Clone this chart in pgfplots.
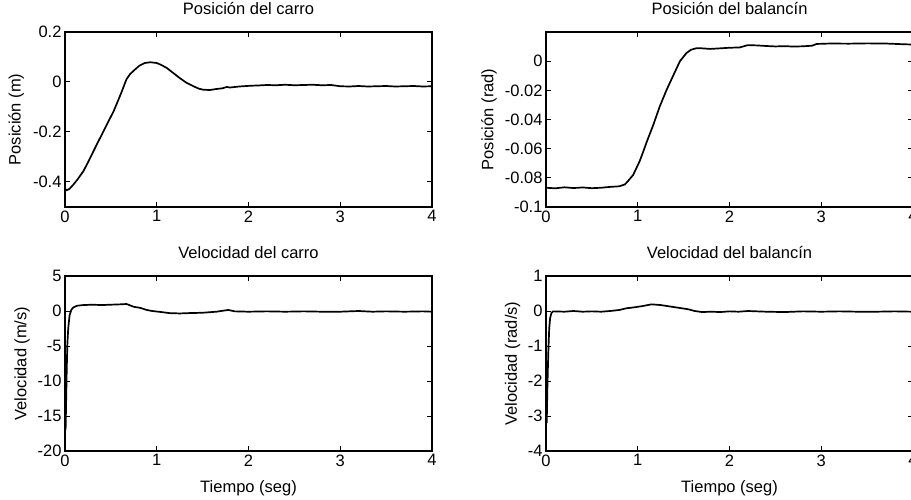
\documentclass[border=0pt]{standalone}
\usepackage{fontspec}
\setmainfont{Liberation Sans}
\usepackage{pgfplots}
\pgfplotsset{compat=1.18}
\newcommand\fs{\fontsize{16.5}{19}\selectfont}
\pgfplotsset{
  mat/.style={
    scale only axis, width=367pt, height=175pt,
    xmin=0, xmax=4, xtick={0,1,2,3,4}, xticklabels={0,1,2,3,4},
    tick align=inside, major tick length=5pt,
    axis line style={line width=1.1pt},
    every tick/.style={black, line width=1pt},
    tick label style={font=\fs},
    label style={font=\fs},
    scaled y ticks=false,
    title style={font=\fs, at={(axis description cs:0.5,1)}, anchor=base, yshift=11.5pt},
    xlabel style={at={(axis description cs:0.5,0)}, anchor=base, yshift=-41pt},
  },
  sig/.style={black, line width=1.7pt, mark=none},
}
\begin{document}
\begin{tikzpicture}
\useasboundingbox (0,0) rectangle (911pt,499pt);
% Top-left
\begin{axis}[mat, at={(65pt,292pt)}, anchor=south west,
  ymin=-0.5, ymax=0.2, ytick={-0.4,-0.2,0,0.2}, yticklabels={-0.4,-0.2,0,0.2},
  title={Posición del carro}, ylabel={Posición (m)},
  ylabel style={at={(axis description cs:-0.133,0.5)}, anchor=center}]
\addplot[sig] coordinates {
(0,-0.428) (0.02,-0.433) (0.05,-0.427) (0.09,-0.411) (0.14,-0.388) (0.2,-0.357)
(0.25,-0.322) (0.31,-0.277) (0.36,-0.240) (0.42,-0.197) (0.47,-0.160) (0.53,-0.117)
(0.58,-0.073) (0.62,-0.037) (0.65,-0.008) (0.67,0.011) (0.71,0.032) (0.76,0.049)
(0.81,0.065) (0.87,0.076) (0.93,0.079) (1.0,0.076) (1.05,0.068) (1.11,0.056)
(1.18,0.036) (1.25,0.016) (1.32,-0.002) (1.40,-0.017) (1.46,-0.027) (1.51,-0.031)
(1.58,-0.032) (1.65,-0.028) (1.72,-0.025) (1.76,-0.020) (1.80,-0.022) (1.9,-0.018)
(2.02,-0.015) (2.1,-0.014) (2.2,-0.012) (2.3,-0.013) (2.4,-0.011) (2.5,-0.013)
(2.6,-0.012) (2.7,-0.011) (2.8,-0.013) (2.9,-0.012) (3.0,-0.017) (3.1,-0.018)
(3.2,-0.016) (3.3,-0.018) (3.4,-0.017) (3.5,-0.016) (3.6,-0.018) (3.7,-0.017)
(3.8,-0.016) (3.9,-0.018) (4.0,-0.017)
};
\end{axis}
% Top-right
\begin{axis}[mat, at={(546pt,292pt)}, anchor=south west,
  ymin=-0.1, ymax=0.02, ytick={-0.1,-0.08,-0.06,-0.04,-0.02,0},
  yticklabels={-0.1,-0.08,-0.06,-0.04,-0.02,0},
  title={Posición del balancín}, ylabel={Posición (rad)},
  ylabel style={at={(axis description cs:-0.155,0.5)}, anchor=center}]
\addplot[sig] coordinates {
(0,-0.0868) (0.1,-0.0872) (0.2,-0.0865) (0.3,-0.0870) (0.4,-0.0866) (0.5,-0.0871)
(0.6,-0.0868) (0.7,-0.0862) (0.8,-0.0858) (0.86,-0.0845) (0.89,-0.0825) (0.95,-0.078)
(1.02,-0.0687) (1.06,-0.062) (1.10,-0.055) (1.17,-0.0436) (1.24,-0.031) (1.315,-0.0196)
(1.39,-0.0094) (1.46,0.0) (1.53,0.0055) (1.58,0.0078) (1.64,0.0089) (1.70,0.0088)
(1.79,0.0084) (1.9,0.0088) (2.0,0.0092) (2.11,0.0094) (2.2,0.0110) (2.3,0.0108)
(2.4,0.0104) (2.5,0.0101) (2.6,0.0103) (2.7,0.0100) (2.8,0.0102) (2.9,0.0106)
(2.95,0.0118) (3.1,0.0121) (3.3,0.0120) (3.5,0.0122) (3.7,0.0121) (3.9,0.0116) (4.0,0.0114)
};
\end{axis}
% Bottom-left
\begin{axis}[mat, at={(65pt,48pt)}, anchor=south west,
  ymin=-20, ymax=5, ytick={-20,-15,-10,-5,0,5}, yticklabels={-20,-15,-10,-5,0,5},
  title={Velocidad del carro}, ylabel={Velocidad (m/s)}, xlabel={Tiempo (seg)},
  ylabel style={at={(axis description cs:-0.117,0.5)}, anchor=center}]
\addplot[sig] coordinates {
(0,-15.5) (0.008,-16) (0.018,-9) (0.025,-5) (0.035,-2.5) (0.05,-0.6) (0.07,0.2)
(0.09,0.5) (0.13,0.75) (0.2,0.85) (0.3,0.9) (0.4,0.85) (0.5,0.9) (0.6,0.95)
(0.67,1.0) (0.7,0.85) (0.75,0.6) (0.82,0.45) (0.89,0.15) (0.95,0.0) (1.05,-0.15)
(1.14,-0.3) (1.25,-0.35) (1.35,-0.3) (1.5,-0.25) (1.65,-0.1) (1.78,0.15) (1.85,-0.05)
(2.0,-0.1) (2.2,-0.05) (2.4,-0.1) (2.6,-0.05) (2.8,-0.1) (3.0,-0.1) (3.2,0.0)
(3.35,-0.1) (3.5,-0.05) (3.7,-0.1) (3.9,-0.05) (4.0,-0.1)
};
\end{axis}
% Bottom-right
\begin{axis}[mat, at={(546pt,48pt)}, anchor=south west,
  ymin=-4, ymax=1, ytick={-4,-3,-2,-1,0,1}, yticklabels={-4,-3,-2,-1,0,1},
  title={Velocidad del balancín}, ylabel={Velocidad (rad/s)}, xlabel={Tiempo (seg)},
  ylabel style={at={(axis description cs:-0.091,0.5)}, anchor=center}]
\addplot[sig] coordinates {
(0,-2.6) (0.008,-3.2) (0.015,-2.2) (0.025,-1.2) (0.035,-0.5) (0.045,-0.2) (0.06,-0.05)
(0.08,-0.01) (0.2,-0.02) (0.3,0.0) (0.4,-0.02) (0.5,-0.01) (0.6,-0.02) (0.7,0.0)
(0.8,0.03) (0.88,0.08) (0.95,0.1) (1.05,0.14) (1.15,0.19) (1.25,0.17) (1.35,0.13)
(1.45,0.09) (1.55,0.05) (1.62,0.0) (1.7,-0.03) (1.8,-0.02) (1.9,-0.03) (2.0,-0.01)
(2.1,-0.02) (2.2,0.0) (2.4,-0.02) (2.6,-0.03) (2.8,-0.01) (3.0,-0.02) (3.2,-0.01)
(3.4,-0.02) (3.6,-0.02) (3.8,-0.01) (4.0,-0.02)
};
\end{axis}
\end{tikzpicture}
\end{document}
